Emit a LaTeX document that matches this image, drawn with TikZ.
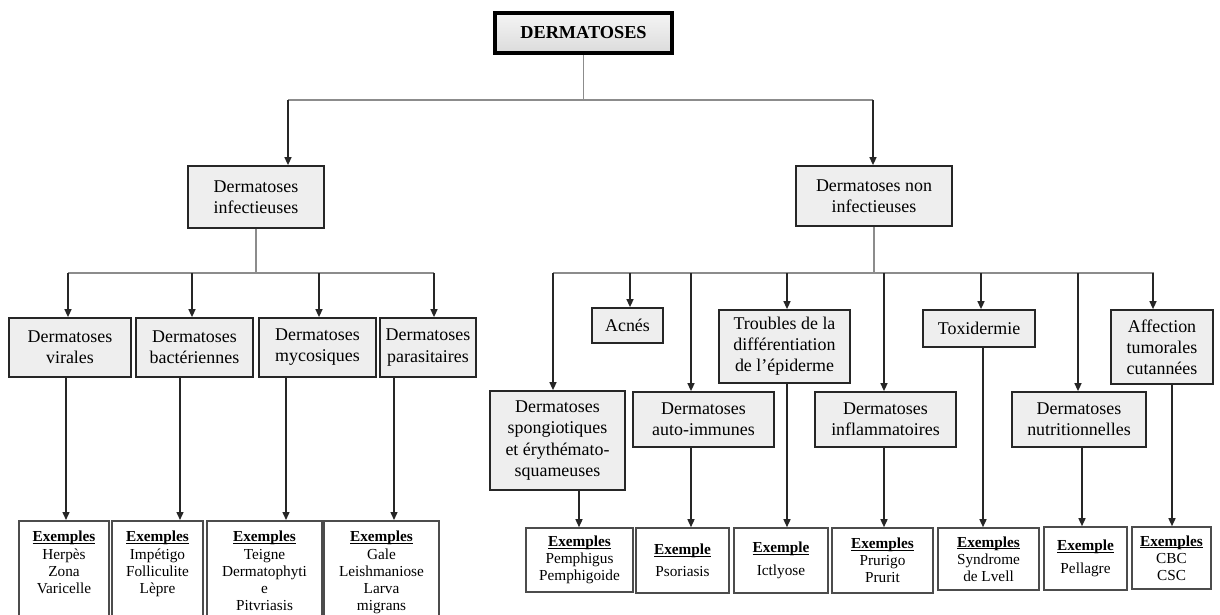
\documentclass[tikz,border=0pt]{standalone}
\usepackage{fontspec}
\setmainfont{Liberation Serif}
\usetikzlibrary{arrows.meta,positioning}
\definecolor{BoxGray}{RGB}{238,238,238}
\definecolor{LineGray}{RGB}{140,140,140}
\tikzset{
  rootbox/.style={draw=black,line width=2pt,top color=gray!8,bottom color=gray!28,
    minimum width=3.54cm,minimum height=0.8cm,font=\fontsize{10.4}{12}\selectfont\bfseries},
  catbox/.style={draw=black!85,line width=1pt,fill=BoxGray,align=center,inner sep=1pt,
    font=\fontsize{10.2}{12}\selectfont},
  exbox/.style={draw=black!70,line width=0.9pt,fill=white,align=center,inner sep=3pt,
    font=\fontsize{8.7}{9.8}\selectfont},
  busline/.style={draw=LineGray,line width=0.6pt},
  droparrow/.style={-{Triangle[length=1.6mm,width=1.4mm]},line width=0.8pt,draw=black!85},
}
\newcommand{\exhead}[1]{\leavevmode\setbox0\hbox{\textbf{#1}}\rlap{\rule[-1.3pt]{\wd0}{0.5pt}}\box0}

\begin{document}
\begin{tikzpicture}[x=0.02cm,y=-0.02cm]
  \useasboundingbox (0,0) rectangle (1220,615);
  % top levels
  \node[rootbox] (root) at (583.5,33) {DERMATOSES};
  \node[catbox,minimum width=2.72cm,minimum height=1.24cm] (infect) at (256,197)
    {Dermatoses\\infectieuses};
  \node[catbox,minimum width=3.12cm,minimum height=1.2cm] (noninf) at (874,196)
    {Dermatoses non\\infectieuses};
  % infectious branch
  \node[catbox,minimum width=2.44cm,minimum height=1.18cm] (vir) at (70,347.5)
    {Dermatoses\\virales};
  \node[catbox,minimum width=2.34cm,minimum height=1.18cm] (bact) at (194.5,347.5)
    {Dermatoses\\bactériennes};
  \node[catbox,minimum width=2.34cm,minimum height=1.18cm] (myco) at (317.5,347.5)
    {Dermatoses\\mycosiques};
  \node[catbox,minimum width=1.92cm,minimum height=1.18cm] (para) at (428,347.5)
    {Dermatoses\\parasitaires};
  % non infectious branch
  \node[catbox,minimum width=1.42cm,minimum height=0.7cm] (acnes) at (627.5,325.5) {Acnés};
  \node[catbox,minimum width=2.62cm,minimum height=1.46cm] (troubles) at (784.5,346.5)
    {Troubles de la\\différentiation\\de l’épiderme};
  \node[catbox,minimum width=2.24cm,minimum height=0.74cm] (toxi) at (979,328.5) {Toxidermie};
  \node[catbox,minimum width=2.04cm,minimum height=1.48cm] (affect) at (1162,347)
    {Affection\\tumorales\\cutannées};
  \node[catbox,minimum width=2.7cm,minimum height=1.98cm] (spongio) at (557.5,440.5)
    {Dermatoses\\spongiotiques\\et érythémato-\\squameuses};
  \node[catbox,minimum width=2.82cm,minimum height=1.1cm] (autoimm) at (703.5,419.5)
    {Dermatoses\\auto-immunes};
  \node[catbox,minimum width=2.82cm,minimum height=1.1cm] (inflam) at (885.5,419.5)
    {Dermatoses\\inflammatoires};
  \node[catbox,minimum width=2.68cm,minimum height=1.1cm] (nutri) at (1079,419.5)
    {Dermatoses\\nutritionnelles};
  % examples, left
  \node[exbox,inner ysep=6pt,minimum width=1.76cm,anchor=north] (exVir) at (64,520)
    {\parbox[c][2.2cm][t]{1.6cm}{\centering\exhead{Exemples}\\Herpès\\Zona\\Varicelle}};
  \node[exbox,inner ysep=6pt,minimum width=1.78cm,anchor=north] (exBact) at (157.5,520)
    {\parbox[c][2.2cm][t]{1.6cm}{\centering\exhead{Exemples}\\Impétigo\\Folliculite\\Lèpre}};
  \node[exbox,inner ysep=6pt,minimum width=2.3cm,anchor=north] (exMyco) at (264.5,520)
    {\parbox[c][2.2cm][t]{2.1cm}{\centering\exhead{Exemples}\\Teigne\\Dermatophyti\\e\\Pitvriasis}};
  \node[exbox,inner ysep=6pt,minimum width=2.26cm,anchor=north] (exPara) at (381.5,520)
    {\parbox[c][2.2cm][t]{2.1cm}{\centering\exhead{Exemples}\\Gale\\Leishmaniose\\Larva\\migrans}};
  % examples, right
  \node[exbox,minimum width=2.14cm,minimum height=1.28cm] (exSpon) at (579.5,560)
    {\exhead{Exemples}\\Pemphigus\\Pemphigoide};
  \node[exbox,minimum width=1.86cm,minimum height=1.3cm] (exAuto) at (682.5,560.5)
    {\exhead{Exemple}\\[3pt]Psoriasis};
  \node[exbox,minimum width=1.88cm,minimum height=1.3cm] (exTroub) at (781,560.5)
    {\exhead{Exemple}\\[3pt]Ictlyose};
  \node[exbox,minimum width=2.02cm,minimum height=1.3cm] (exInfl) at (882.5,560.5)
    {\exhead{Exemples}\\Prurigo\\Prurit};
  \node[exbox,minimum width=2.02cm,minimum height=1.24cm] (exToxi) at (988.5,559)
    {\exhead{Exemples}\\Syndrome\\de Lvell};
  \node[exbox,minimum width=1.66cm,minimum height=1.26cm] (exNutri) at (1085.5,558.5)
    {\exhead{Exemple}\\[3pt]Pellagre};
  \node[exbox,minimum width=1.58cm,minimum height=1.24cm] (exAff) at (1171.5,558)
    {\exhead{Exemples}\\CBC\\CSC};
  % connectors
  \coordinate (topL) at (288,100);
  \coordinate (topR) at (873,100);
  \draw[busline] (root.south) -- (root.south |- topL);
  \draw[busline] (topL) -- (topR);
  \draw[droparrow] (topL) -- (topL |- infect.north);
  \draw[droparrow] (topR) -- (topR |- noninf.north);
  \coordinate (infL) at (68,273);
  \coordinate (infR) at (434,273);
  \draw[busline] (infect.south) -- (infect.south |- infL);
  \draw[busline] (infL) -- (infR);
  \foreach \x/\n in {68/vir,192/bact,319/myco,434/para}
    \draw[droparrow] (\x,273) -- (\x,0 |- \n.north);
  \foreach \x/\a/\b in {66/vir/exVir,180/bact/exBact,286/myco/exMyco,394/para/exPara}
    \draw[droparrow] (\x,0 |- \a.south) -- (\x,0 |- \b.north);
  \coordinate (nonL) at (553,273);
  \coordinate (nonR) at (1154,273);
  \draw[busline] (noninf.south) -- (noninf.south |- nonL);
  \draw[busline] (nonL) -- (nonR);
  \foreach \x/\n in {553/spongio,630/acnes,691/autoimm,787/troubles,884/inflam,981/toxi,1078/nutri,1153/affect}
    \draw[droparrow] (\x,273) -- (\x,0 |- \n.north);
  \foreach \x/\a/\b in {579/spongio/exSpon,691/autoimm/exAuto,787/troubles/exTroub,884/inflam/exInfl,983/toxi/exToxi,1082/nutri/exNutri,1172/affect/exAff}
    \draw[droparrow] (\x,0 |- \a.south) -- (\x,0 |- \b.north);
\end{tikzpicture}
\end{document}
